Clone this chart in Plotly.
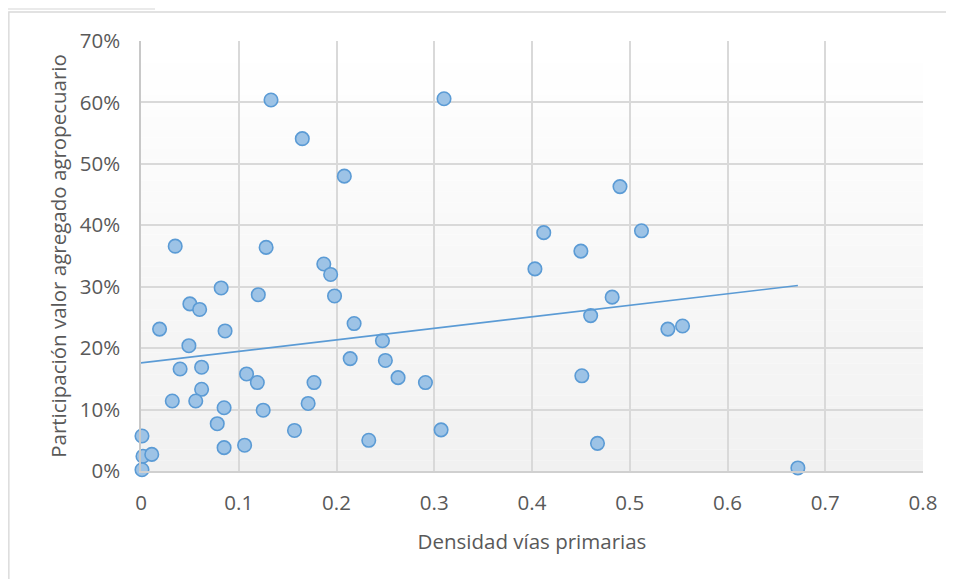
import plotly.graph_objects as go

# Data
densidad = [0.001, 0.002, 0.011, 0.001, 0.019, 0.035, 0.040, 0.032, 0.049, 0.050,
            0.060, 0.062, 0.062, 0.056, 0.082, 0.085, 0.078, 0.085, 0.086, 0.106,
            0.108, 0.119, 0.120, 0.125, 0.128, 0.133, 0.165, 0.157, 0.171, 0.177,
            0.187, 0.194, 0.198, 0.208, 0.218, 0.214, 0.233, 0.247, 0.250, 0.263,
            0.291, 0.307, 0.310, 0.403, 0.412, 0.450, 0.490, 0.512, 0.482, 0.460,
            0.539, 0.554, 0.451, 0.467, 0.672]
participacion = [5.7, 2.4, 2.7, 0.2, 23.1, 36.6, 16.6, 11.4, 20.4, 27.2,
                 26.3, 16.9, 13.3, 11.4, 29.8, 10.3, 7.7, 3.8, 22.8, 4.2,
                 15.8, 14.4, 28.7, 9.9, 36.4, 60.4, 54.1, 6.6, 11.0, 14.4,
                 33.7, 32.0, 28.5, 48.0, 24.0, 18.3, 5.0, 21.2, 18.0, 15.2,
                 14.4, 6.7, 60.6, 32.9, 38.8, 35.8, 46.3, 39.1, 28.3, 25.3,
                 23.1, 23.6, 15.5, 4.5, 0.5]
trend_x = [0.0, 0.672]
trend_y = [17.6, 30.2]

x_ticks = [0, 0.1, 0.2, 0.3, 0.4, 0.5, 0.6, 0.7, 0.8]
x_tick_labels = ["0", "0.1", "0.2", "0.3", "0.4", "0.5", "0.6", "0.7", "0.8"]
y_ticks = [0, 10, 20, 30, 40, 50, 60, 70]
y_tick_labels = ["0%", "10%", "20%", "30%", "40%", "50%", "60%", "70%"]

FONT = "Open Sans"
TXT = "#595959"
FS = 20.5

fig = go.Figure()
fig.add_trace(go.Scatter(
    x=densidad, y=participacion, mode="markers",
    marker=dict(size=13.5, color="#9DC3E6", line=dict(color="#5B9BD5", width=1.6)),
    showlegend=False, cliponaxis=False,
))
fig.add_trace(go.Scatter(
    x=trend_x, y=trend_y, mode="lines",
    line=dict(color="#5B9BD5", width=1.6),
    showlegend=False,
))

# gradient plot background (white to light gray)
shapes = []
n = 40
for i in range(n):
    t = i / (n - 1)
    v = int(round(255 - (255 - 241) * (1 - t)))
    shapes.append(dict(type="rect", xref="x domain", yref="y domain",
                       x0=0, x1=1, y0=i / n, y1=(i + 1) / n,
                       fillcolor=f"rgb({v},{v},{v})", line=dict(width=0),
                       layer="below"))
# chart frame
shapes.append(dict(type="rect", xref="paper", yref="paper",
                   x0=-0.1690, x1=1.2, y0=-0.4, y1=1.0674,
                   line=dict(color="#D9D9D9", width=1.4), fillcolor="rgba(0,0,0,0)",
                   layer="below"))
shapes.append(dict(type="line", xref="paper", yref="paper",
                   x0=-0.185, x1=0.0179, y0=1.0744, y1=1.0744,
                   line=dict(color="#E3E3E3", width=1.5)))

fig.update_layout(
    width=954, height=579,
    margin=dict(l=133, r=39, t=33, b=116),
    paper_bgcolor="white", plot_bgcolor="white",
    font=dict(family=FONT, color=TXT, size=FS),
    shapes=shapes,
    xaxis=dict(
        range=[0, 0.8], tickvals=x_ticks, ticktext=x_tick_labels,
        showgrid=True, gridcolor="#D9D9D9", gridwidth=1.6,
        showline=True, linecolor="#D0D0D0", linewidth=1.6,
        zeroline=False, ticks="", ticklabelstandoff=13,
        tickfont=dict(size=FS, color=TXT),
        title=dict(text="Densidad vías primarias", font=dict(size=FS, color=TXT), standoff=19),
    ),
    yaxis=dict(
        range=[0, 70], tickvals=y_ticks, ticktext=y_tick_labels,
        showgrid=True, gridcolor="#D9D9D9", gridwidth=1.6,
        showline=True, linecolor="#C8C8C8", linewidth=1.6,
        zeroline=False, ticks="", ticklabelstandoff=15,
        tickfont=dict(size=FS, color=TXT),
        title=dict(text="Participación valor agregado agropecuario", font=dict(size=FS, color=TXT), standoff=8),
    ),
)

fig.write_html("out.html")
